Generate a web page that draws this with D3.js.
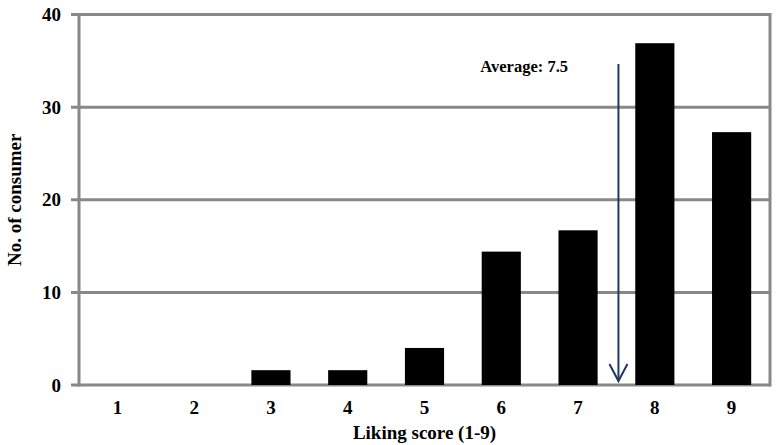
<!DOCTYPE html>
<html>
<head>
<meta charset="utf-8">
<script src="https://cdn.jsdelivr.net/npm/d3@7"></script>
<style>
  body { margin: 0; background: #fff; }
</style>
</head>
<body>
<div id="chart"></div>
<script>
// data
const scores = ["1", "2", "3", "4", "5", "6", "7", "8", "9"];
const consumers = [0, 0, 1.6, 1.6, 4.0, 14.4, 16.7, 36.9, 27.3];
const yTicks = [0, 10, 20, 30, 40];
const averageScore = 7.5;

const canvW = 776, canvH = 445;
const margin = {top: 14.5, right: 6, bottom: 60, left: 79};
const width = canvW - margin.left - margin.right;
const height = canvH - margin.top - margin.bottom;
const gridColor = "#888888";
const fontFam = "'Times New Roman', 'Liberation Serif', serif";

const svg = d3.select("#chart")
    .append("svg")
    .attr("width", canvW)
    .attr("height", canvH)
    .attr("font-family", fontFam)
    .attr("font-weight", "bold")
    .append("g")
    .attr("transform", `translate(${margin.left},${margin.top})`);

const x = d3.scaleBand()
    .domain(scores)
    .range([0, width])
    .paddingInner(0.49)
    .paddingOuter(0.245);

const y = d3.scaleLinear()
    .domain([0, 40])
    .range([height, 0]);

// gridlines + tick marks
svg.append("g")
    .selectAll("line")
    .data(yTicks)
    .join("line")
    .attr("x1", -8)
    .attr("x2", width)
    .attr("y1", d => y(d))
    .attr("y2", d => y(d))
    .attr("stroke", gridColor)
    .attr("stroke-width", 3);

// left axis line and right border
svg.append("line")
    .attr("x1", 0).attr("x2", 0)
    .attr("y1", y(40) - 1.5).attr("y2", y(0) + 1.5)
    .attr("stroke", gridColor).attr("stroke-width", 3);
svg.append("line")
    .attr("x1", width).attr("x2", width)
    .attr("y1", y(40) - 1.5).attr("y2", y(0) + 1.5)
    .attr("stroke", gridColor).attr("stroke-width", 3);

// y tick labels
svg.append("g")
    .selectAll("text")
    .data(yTicks)
    .join("text")
    .attr("x", -18)
    .attr("y", d => y(d))
    .attr("dy", "0.35em")
    .attr("text-anchor", "end")
    .style("font-size", "19px")
    .style("font-weight", "700")
    .text(d => d);

// bars
svg.selectAll("rect.bar")
    .data(consumers)
    .join("rect")
    .attr("class", "bar")
    .attr("x", (d, i) => x(scores[i]))
    .attr("width", x.bandwidth())
    .attr("y", d => y(d))
    .attr("height", d => y(0) - y(d))
    .attr("fill", "#000");

// x tick labels
svg.append("g")
    .selectAll("text")
    .data(scores)
    .join("text")
    .attr("x", d => x(d) + x.bandwidth() / 2)
    .attr("y", height + 29)
    .attr("text-anchor", "middle")
    .style("font-size", "19px")
    .style("font-weight", "700")
    .text(d => d);

// axis titles
svg.append("text")
    .attr("x", width / 2)
    .attr("y", height + 54)
    .attr("text-anchor", "middle")
    .style("font-size", "19px")
    .style("font-weight", "700")
    .text("Liking score (1-9)");

svg.append("text")
    .attr("transform", "rotate(-90)")
    .attr("x", -height / 2)
    .attr("y", -margin.left + 21)
    .attr("text-anchor", "middle")
    .style("font-size", "19px")
    .style("font-weight", "700")
    .text("No. of consumer");

// average arrow
const avgX = x("7") + x.bandwidth() / 2 + x.step() * (averageScore - 7) + 2;
const arrowColor = "#1f3864";
svg.append("line")
    .attr("x1", avgX).attr("x2", avgX)
    .attr("y1", 64 - margin.top)
    .attr("y2", y(0) - 4)
    .attr("stroke", arrowColor)
    .attr("stroke-width", 2);
svg.append("path")
    .attr("d", `M${avgX - 9},${y(0) - 21} L${avgX},${y(0) - 4} L${avgX + 9},${y(0) - 21}`)
    .attr("fill", "none")
    .attr("stroke", arrowColor)
    .attr("stroke-width", 2);

svg.append("text")
    .attr("x", 568 - margin.left)
    .attr("y", 72 - margin.top)
    .attr("text-anchor", "end")
    .style("font-size", "16.5px")
    .style("font-weight", "700")
    .text("Average: " + averageScore);
</script>
</body>
</html>
